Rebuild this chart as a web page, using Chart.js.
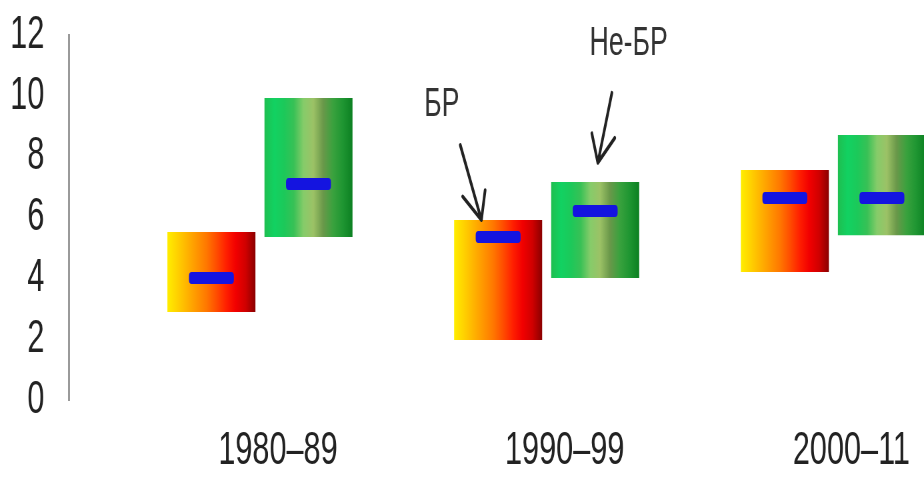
<!DOCTYPE html>
<html>
<head>
<meta charset="utf-8">
<script src="https://cdn.jsdelivr.net/npm/chart.js@4.4.1/dist/chart.umd.min.js"></script>
<style>
  html, body { margin: 0; padding: 0; background: #fff; overflow: hidden; }
  #wrap { height: 477px; transform-origin: 0 0; }
</style>
</head>
<body>
<div id="wrap"><canvas id="grafiek"></canvas></div>
<script>
// Data
const periodes = ["1980–89", "1990–99", "2000–11"];
const brLaag  = [2.89, 1.97, 4.21];
const brHoog  = [5.52, 5.92, 7.56];
const brGem   = [4.01, 5.36, 6.64];
const nbrLaag = [5.36, 4.01, 5.42];
const nbrHoog = [9.93, 7.17, 8.71];
const nbrGem  = [7.10, 6.21, 6.64];
const yTicks  = [0, 2, 4, 6, 8, 10, 12];

// Het origineel is een smal uitgerekt beeld: canvas breder tekenen en horizontaal terugschalen
const K = 1.5;
const wrap = document.getElementById('wrap');
wrap.style.width = (924 * K) + 'px';
wrap.style.transform = 'scaleX(' + (1 / K) + ')';

// Stijl
const FONT = "'Liberation Sans', Arial, sans-serif";
const CAT_PCT = 0.677, BAR_PCT = 0.907;
const ORANJE = ['#ffee00', '#ffd200', '#ffb400', '#ff9600', '#ff7800', '#ff4e00', '#ff2000', '#f20000', '#d00000', '#8a0000'];
const GROEN  = ['#1fbf50', '#12d262', '#1cc95a', '#38c156', '#86cc6a', '#9cc266', '#6a984a', '#3aa23e', '#1f9632', '#0c8022'];
const BLAUW = '#1414e0';

// annotaties: x in balkbreedtes t.o.v. het midden van de balk, y in data-eenheden
const notities = [
  { tekst: 'БР', ds: 0, idx: 1, tekstOp: [-0.64, 9.7], van: [-0.43, 8.38], naar: [-0.19, 5.92] },
  { tekst: 'Не-БР', ds: 1, idx: 1, tekstOp: [0.38, 11.7], van: [0.19, 10.1], naar: [0.03, 7.8] }
];

// verloop over de breedte van de balk, positie via de x-schaal
function streepVulling(kleuren) {
  return ctx => {
    const xs = ctx.chart.scales.x;
    if (!xs || !isFinite(xs.getPixelForValue(1))) return kleuren[4];
    const midden = xs.getPixelForValue(ctx.dataIndex + 1);
    const stap = xs.getPixelForValue(2) - xs.getPixelForValue(1);
    const slot = stap * CAT_PCT / 2;
    const c = midden + (ctx.datasetIndex - 0.5) * slot;
    const w = slot * BAR_PCT;
    const g = ctx.chart.ctx.createLinearGradient(c - w / 2, 0, c + w / 2, 0);
    kleuren.forEach((k, i) => g.addColorStop(i / (kleuren.length - 1), k));
    return g;
  };
}

const markeringen = {
  id: 'markeringen',
  afterDatasetsDraw(chart) {
    const c = chart.ctx, y = chart.scales.y;
    [brGem, nbrGem].forEach((gem, d) => {
      chart.getDatasetMeta(d).data.forEach((bar, i) => {
        const py = y.getPixelForValue(gem[i]);
        const w = bar.width * 0.51, h = 12;
        c.save();
        c.fillStyle = BLAUW;
        c.beginPath();
        c.roundRect(bar.x - w / 2, py - h / 2, w, h, 4);
        c.fill();
        c.restore();
      });
    });
  }
};

const pijlen = {
  id: 'pijlen',
  afterDraw(chart) {
    const c = chart.ctx, y = chart.scales.y;
    notities.forEach(n => {
      const bar = chart.getDatasetMeta(n.ds).data[n.idx];
      const px = f => bar.x + f * bar.width;
      const x1 = px(n.van[0]), y1 = y.getPixelForValue(n.van[1]);
      const x2 = px(n.naar[0]), y2 = y.getPixelForValue(n.naar[1]);
      c.save();
      c.strokeStyle = '#222';
      c.lineWidth = 4;
      c.lineCap = 'round';
      c.beginPath();
      c.moveTo(x1, y1); c.lineTo(x2, y2);
      // punt berekenen in schermruimte (na de horizontale schaal)
      const hoek = Math.atan2(y2 - y1, (x2 - x1) / K);
      [-0.4, 0.4].forEach(a => {
        c.moveTo(x2, y2);
        c.lineTo(x2 - 30 * K * Math.cos(hoek + a), y2 - 30 * Math.sin(hoek + a));
      });
      c.stroke();
      c.fillStyle = '#333';
      c.font = '40px ' + FONT;
      c.textAlign = 'center';
      c.textBaseline = 'middle';
      c.fillText(n.tekst, px(n.tekstOp[0]), y.getPixelForValue(n.tekstOp[1]));
      c.restore();
    });
  }
};

const mijnGrafiek = new Chart(document.getElementById('grafiek'), {
  type: 'bar',
  data: {
    datasets: [
      { label: 'БР', data: periodes.map((p, i) => ({ x: i + 1, y: [brLaag[i], brHoog[i]] })), backgroundColor: streepVulling(ORANJE), borderWidth: 0 },
      { label: 'Не-БР', data: periodes.map((p, i) => ({ x: i + 1, y: [nbrLaag[i], nbrHoog[i]] })), backgroundColor: streepVulling(GROEN), borderWidth: 0 }
    ]
  },
  options: {
    responsive: true, maintainAspectRatio: false, animation: false,
    categoryPercentage: CAT_PCT, barPercentage: BAR_PCT,
    layout: { padding: { top: 35, left: 0, right: 0, bottom: 0 } },
    plugins: { legend: { display: false }, tooltip: { enabled: false } },
    scales: {
      x: {
        type: 'linear', min: 0.334, max: 3.316, offset: false,
        grid: { display: false, drawTicks: false },
        border: { display: false },
        afterBuildTicks: s => { s.ticks = periodes.map((p, i) => ({ value: i + 1 })); },
        afterFit: s => { s.height = 77; s.paddingLeft = 0; s.paddingRight = 0; },
        ticks: {
          callback: v => periodes[v - 1] || '',
          font: { family: FONT, size: 46 }, color: '#222',
          padding: 24, labelOffset: 27, maxRotation: 0, autoSkip: false
        }
      },
      y: {
        min: 0, max: 12,
        grid: { display: false, drawTicks: false },
        border: { display: true, color: '#9a9a9a', width: 3 },
        afterBuildTicks: s => { s.ticks = yTicks.map(v => ({ value: v })); },
        afterFit: s => { s.width = 69 * K; s.paddingTop = 0; s.paddingBottom = 0; },
        ticks: { font: { family: FONT, size: 46 }, color: '#222', padding: 37 }
      }
    }
  },
  plugins: [markeringen, pijlen]
});
</script>
</body>
</html>
